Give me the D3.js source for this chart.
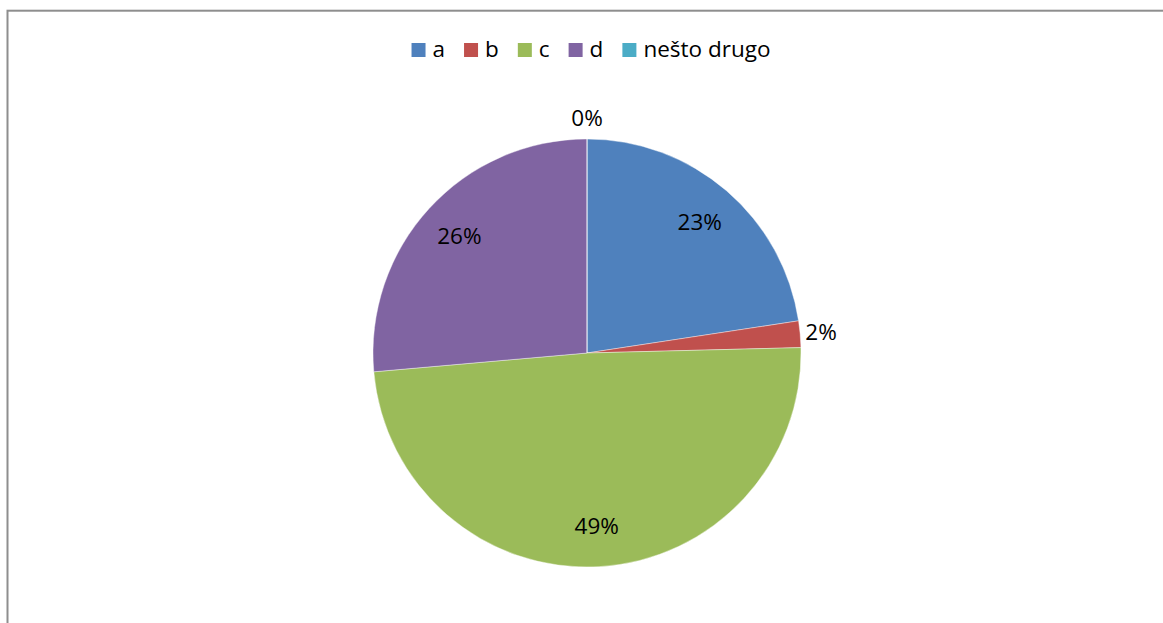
<!DOCTYPE html>
<html>
<head>
<meta charset="utf-8">
<script src="https://cdn.jsdelivr.net/npm/d3@7"></script>
<style>
  body { margin: 0; background: #fff; }
  text { font-family: "Open Sans", sans-serif; fill: #000; }
</style>
</head>
<body>
<script>
// chart data (percent shares)
var categories = ["a", "b", "c", "d", "nešto drugo"];
var values = [22.6, 2.0, 49.0, 26.4, 0];
var colors = ["#4F81BD", "#C0504D", "#9BBB59", "#8064A2", "#4BACC6"];

var width = 1163, height = 623;
var cx = 587, cy = 353, radius = 214;

var svg = d3.select("body").append("svg")
    .attr("width", width)
    .attr("height", height);

// chart frame (right and bottom edge run off the picture)
svg.append("rect")
    .attr("x", 7.5)
    .attr("y", 10.7)
    .attr("width", 1170)
    .attr("height", 700)
    .attr("fill", "none")
    .attr("stroke", "#8e8e8e")
    .attr("stroke-width", 2);

var data = categories.map(function(c, i) { return {name: c, value: values[i], color: colors[i]}; });

var pie = d3.pie()
    .sort(null)
    .value(function(d) { return d.value; });

var arc = d3.arc()
    .innerRadius(0)
    .outerRadius(radius);

var arcs = pie(data);

var g = svg.append("g")
    .attr("transform", "translate(" + cx + "," + cy + ")");

g.selectAll("path")
    .data(arcs)
    .enter().append("path")
    .attr("d", arc)
    .attr("fill", function(d) { return d.data.color; })
    .attr("stroke", "#fff")
    .attr("stroke-opacity", 0.5)
    .attr("stroke-width", 0.8);

// labels: inside for big slices, outside for small ones
var total = d3.sum(values);
g.selectAll("text.lbl")
    .data(arcs)
    .enter().append("text")
    .attr("class", "lbl")
    .attr("text-anchor", "middle")
    .attr("font-size", 22.5)
    .attr("dy", "0.36em")
    .attr("transform", function(d) {
        var a = (d.startAngle + d.endAngle) / 2;
        var r = (d.data.value / total < 0.05) ? 235 : 173;
        return "translate(" + (Math.sin(a) * r) + "," + (-Math.cos(a) * r) + ")";
    })
    .text(function(d) { return Math.round(d.data.value / total * 100) + "%"; });

// legend
var legend = svg.append("g");
var x = 0;
data.forEach(function(d) {
    var item = legend.append("g").attr("transform", "translate(" + x + ",0)");
    item.append("rect")
        .attr("x", 0)
        .attr("y", 43)
        .attr("width", 14)
        .attr("height", 14)
        .attr("fill", d.color);
    var t = item.append("text")
        .attr("x", 21)
        .attr("y", 57)
        .attr("font-size", 22.5)
        .text(d.name);
    x += 21 + t.node().getComputedTextLength() + 19;
});
var lw = x - 19;
legend.attr("transform", "translate(" + (591 - lw / 2) + ",0)");
</script>
</body>
</html>
